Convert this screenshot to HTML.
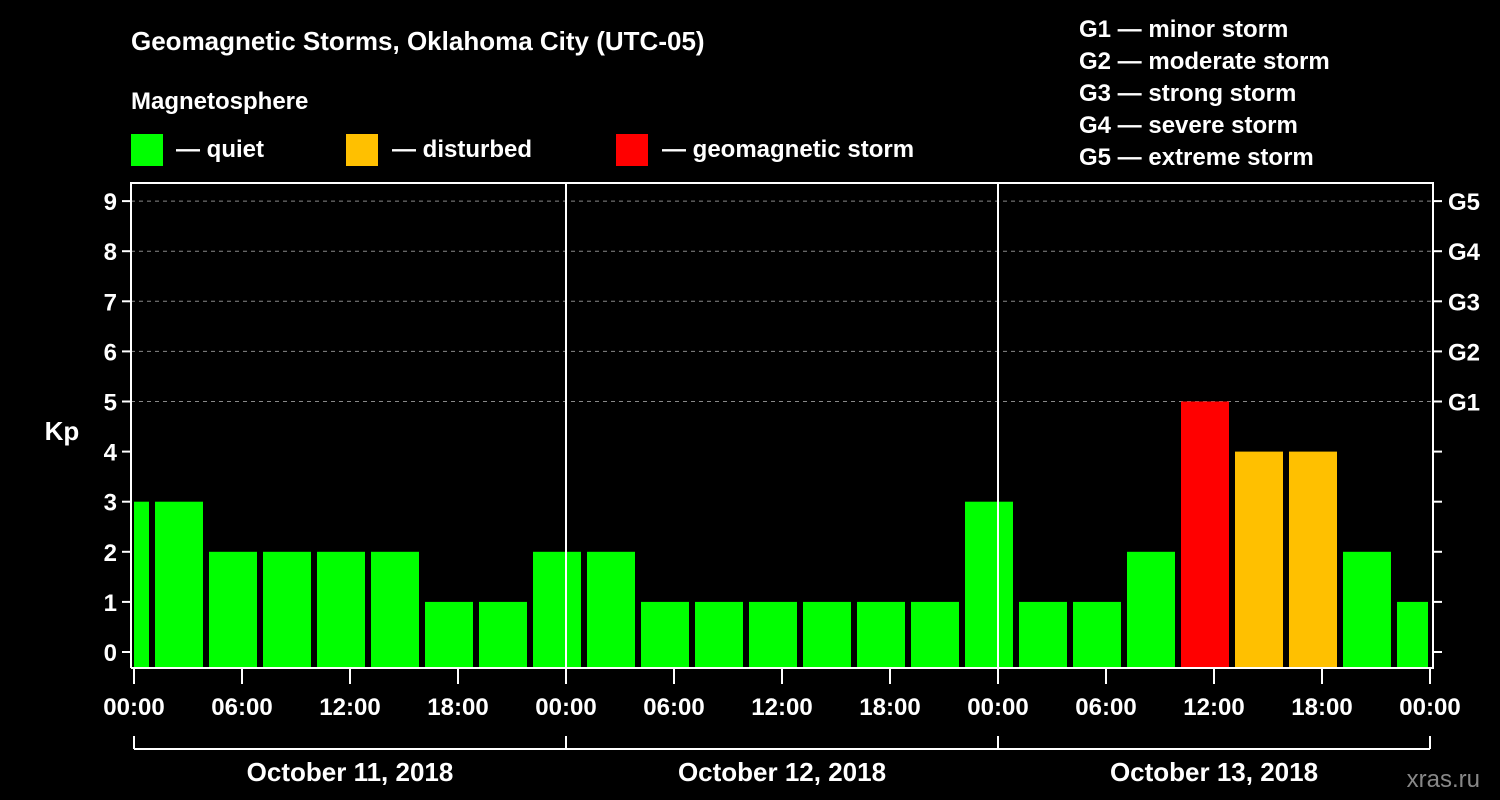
<!DOCTYPE html>
<html><head><meta charset="utf-8"><style>
html,body{margin:0;padding:0;background:#000;}
svg{display:block;font-family:"Liberation Sans",Arial,sans-serif;font-weight:bold;}
</style></head><body>
<svg width="1500" height="800" viewBox="0 0 1500 800" xmlns="http://www.w3.org/2000/svg">
<rect width="1500" height="800" fill="#000"/>
<text x="131" y="50" fill="#fff" font-size="26">Geomagnetic Storms, Oklahoma City (UTC-05)</text>
<text x="131" y="109" fill="#fff" font-size="24">Magnetosphere</text>
<g><rect x="131" y="134" width="32" height="32" fill="#00ff00"/><text x="176" y="157" fill="#fff" font-size="24">— quiet</text></g>
<g><rect x="346" y="134" width="32" height="32" fill="#ffc000"/><text x="392" y="157" fill="#fff" font-size="24">— disturbed</text></g>
<g><rect x="616" y="134" width="32" height="32" fill="#ff0000"/><text x="662" y="157" fill="#fff" font-size="24">— geomagnetic storm</text></g>
<g fill="#fff" font-size="24">
<text x="1079" y="37">G1 — minor storm</text>
<text x="1079" y="69">G2 — moderate storm</text>
<text x="1079" y="101">G3 — strong storm</text>
<text x="1079" y="133">G4 — severe storm</text>
<text x="1079" y="165">G5 — extreme storm</text>
</g>
<text x="62" y="440" fill="#fff" font-size="26" text-anchor="middle">Kp</text>
<text x="1480" y="787" fill="#888" font-size="24" text-anchor="end" font-weight="normal">xras.ru</text>
<g id="grid"></g><g id="bars"></g><g id="axes"></g>
</svg>
<script>
const kpValues=[3,3,2,2,2,2,1,1,2,2,1,1,1,1,1,1,3,1,1,2,5,4,4,2,1];
const kpTicks=[0,1,2,3,4,5,6,7,8,9];
const gLabels=["G1","G2","G3","G4","G5"];
const timeLabels=["00:00","06:00","12:00","18:00","00:00","06:00","12:00","18:00","00:00","06:00","12:00","18:00","00:00"];
const dayLabels=["October 11, 2018","October 12, 2018","October 13, 2018"];
const NS="http://www.w3.org/2000/svg";
const X0=134,HPX=432/24,L=131,R=1433,T=183,B=668;
const xs=h=>X0+h*HPX;
const ys=v=>652-v*50.1;
function mk(p,tag,a){const e=document.createElementNS(NS,tag);for(const k in a)e.setAttribute(k,a[k]);p.appendChild(e);return e;}
const grid=document.getElementById('grid'),bars=document.getElementById('bars'),axes=document.getElementById('axes');
kpTicks.forEach(v=>{
 if(v>=5){const l=mk(grid,'line',{x1:L,x2:R,y1:ys(v),y2:ys(v),stroke:'#888','stroke-width':1,'stroke-dasharray':'4,4'});
 
 }
 const t=mk(axes,'line',{x1:L-9,x2:L,y1:ys(v),y2:ys(v),stroke:'#fff','stroke-width':2});
 
 
 const tx=mk(axes,'text',{x:L-14,y:ys(v)+9,fill:'#fff','font-size':24,'text-anchor':'end'});tx.textContent=v;
 
 
 const rt=mk(axes,'line',{x1:R,x2:R+9,y1:ys(v),y2:ys(v),stroke:'#fff','stroke-width':2});
 
 
});
gLabels.forEach((g,i)=>{const t=mk(axes,'text',{x:1448,y:ys(5+i)+9,fill:'#fff','font-size':24});t.textContent=g;
 
 });
kpValues.forEach((v,i)=>{
 let h0=-2+3*i,h1=h0+3;
 let x0=xs(h0)+3,x1=xs(h1)-3;
 x0=Math.max(x0,xs(0));x1=Math.min(x1,xs(72)-2);
 const c=v>=5?'#ff0000':(v>=4?'#ffc000':'#00ff00');
 const r=mk(bars,'rect',{x:x0,y:ys(v),width:x1-x0,height:B-ys(v),fill:c});
 
 
});
// frame
const f=mk(axes,'polyline',{points:`${L},${B} ${L},${T} ${R},${T} ${R},${B} ${L},${B}`,fill:'none',stroke:'#fff','stroke-width':2});


[1,2].forEach(d=>{const l=mk(axes,'line',{x1:xs(24*d),x2:xs(24*d),y1:T,y2:B,stroke:'#fff','stroke-width':2});
 
 });
timeLabels.forEach((s,i)=>{
 const x=xs(6*i);
 const t=mk(axes,'line',{x1:x,x2:x,y1:B,y2:B+16,stroke:'#fff','stroke-width':2});
 
 
 const tx=mk(axes,'text',{x:x,y:715,fill:'#fff','font-size':24,'text-anchor':'middle'});tx.textContent=s;
 
 
});
const br=mk(axes,'line',{x1:xs(0),x2:xs(72),y1:749,y2:749,stroke:'#fff','stroke-width':2});


[0,1,2,3].forEach(d=>{const l=mk(axes,'line',{x1:xs(24*d),x2:xs(24*d),y1:736,y2:749,stroke:'#fff','stroke-width':2});
 
 });
dayLabels.forEach((s,i)=>{const t=mk(axes,'text',{x:xs(24*i+12),y:781,fill:'#fff','font-size':26,'text-anchor':'middle'});t.textContent=s;
 
 });
</script>
</body></html>
